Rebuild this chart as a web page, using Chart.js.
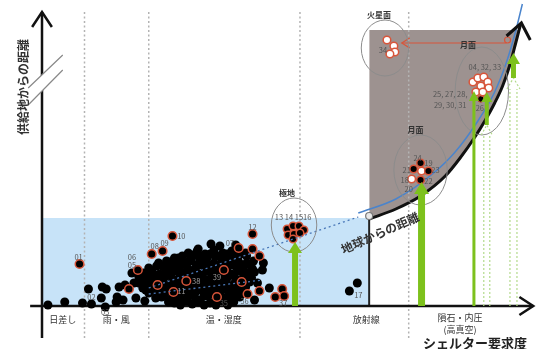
<!DOCTYPE html>
<html><head><meta charset="utf-8">
<script src="https://cdn.jsdelivr.net/npm/chart.js@4.4.1/dist/chart.umd.min.js"></script>
<style>html,body{margin:0;padding:0;background:#fff;overflow:hidden}#wrap{width:542px;height:349px;position:relative}</style>
</head><body><div id="wrap"><canvas id="c" width="542" height="349"></canvas></div>
<script>
// ---- texts ----
const yAxisTitle = '供給地からの距離';
const xAxisTitle = 'シェルター要求度';
const curveTitle = '地球からの距離';
const categories = ['日差し', '雨・風', '温・湿度', '放射線', '隕石・内圧', '(高真空)'];
const categoryX = [21, 75, 184, 328, 423, 423];
const categoryY = [-14, -14, -14, -14, -12, -24];
const dividerX = [43, 108, 261, 371];

// ---- regions / curves (requirement 0-500, distance 0-300) ----
const earthZoneTop = 88;      // light-blue zone
const earthZoneRight = 331;
const spaceZoneTop = 276;     // grey zone
const curveX = [331, 358, 383, 408, 423, 438, 448, 458, 466, 473, 479, 484];
const curveY = [87, 97, 110, 130, 148, 169, 185, 203, 220, 240, 262, 281];
const blueX = [320, 358, 395, 418, 441, 458, 470, 479, 486];
const blueY = [93, 107, 132, 154, 185, 214, 244, 274, 302];
const trendUpper = [[108, 18], [320, 89]];
const trendLower = [[108, 12], [223, 26]];

// ---- points ----
const clusterBlack = [
 [6,1],[23,4],[41,3],[50,2],[47,17],[61,19],[65,17],[60,8],[64,-1],[75,4],[76,9],[82,6],[84,21],[78,19],
 [93,23],[95,8],[104,5],[105,16],[98,29],[91,33],[105,28],[110,34],[111,26],[121,9],[128,4],[140,8],[127,44],[138,48],
 [148,53],[157,55],[165,52],[174,56],[183,53],[192,55],[201,52],
 [134,48],[142,50],[150,47],[158,50],[167,48],[175,50],[182,47],[190,49],[198,48],[207,50],
 [118,43],[126,45],[134,42],[143,44],[151,45],[158,42],[166,44],[174,43],[183,45],[191,43],[199,44],[206,42],[214,45],
 [108,38],[116,40],[125,37],[132,39],[140,40],[148,37],[156,39],[165,38],[172,40],[180,37],[188,39],[197,38],[204,40],[212,38],
 [103,33],[111,35],[119,32],[127,34],[135,35],[143,33],[151,34],[159,32],[167,35],[175,33],[183,34],[191,32],[199,35],[207,33],[215,34],
 [100,28],[108,30],[116,28],[124,29],[132,27],[140,30],[148,28],[156,29],[164,27],[172,30],[180,28],[188,29],[196,27],[204,30],[212,28],
 [98,23],[106,25],[114,23],[122,24],[130,22],[138,25],[146,23],[154,24],[162,22],[170,25],[178,23],[186,24],[194,22],[210,24],[218,23],
 [102,18],[110,20],[118,18],[126,19],[134,17],[142,20],[150,18],[158,19],[166,17],[174,20],[182,18],[190,19],[198,17],[206,19],
 [108,13],[116,15],[124,13],[140,14],[148,12],[156,15],[164,13],[172,14],[180,12],[188,15],[196,13],[202,14],
 [115,8],[124,10],[132,8],[148,9],[156,7],[164,10],[186,8],[194,9],
 [134,3],[146,5],[158,4],[170,3],[182,5],[194,4],
 [152,51],[161,47],[170,52],[179,50],[187,52],[196,51],[122,40],[130,44],[138,36],[146,41],[154,36],[162,41],[170,36],
 [178,41],[186,36],[194,41],[202,37],[210,42],[106,26],[114,31],[122,27],[130,31],[138,27],[146,31],[154,27],[162,31],
 [170,27],[178,31],[186,27],[194,31],[202,26],[210,31],[104,20],[112,16],[120,21],[128,16],[136,21],[144,16],[152,21],
 [160,16],[168,21],[176,16],[184,21],[192,16],[200,21],[120,11],[136,11],[144,6],[152,11],[160,6],[168,10],[176,6],
 [190,6],[200,9],[140,1],[152,2],[164,1],[176,1],[188,1],
 [180,60],[196,61],[206,53],[224,43],[213,37],[203,35],[230,18],[215,6],[192,11],[223,36],[171,62],[158,57],
 [311,15],[319,23]
];
const redRinged = [[38,42],[97,36],[111,52],[122,55],[132,70],[199,58],[213,72],[213,57],[220,50],[202,24],[208,12],[220,15],[236,9],[243,17],[245,10],
 [88,17],[117,21],[133,14],[146,25],[184,36],[177,9]];
const polarPts = [[248,77],[254,80],[260,80],[265,76],[249,71],[255,72],[261,73],[254,67]];
const moonLowBlack = [[383,143],[376,137],[391,135],[383,126]];
const moonLowWhite = [[384,135],[374,127]];
const moonHighWhite = [[436,224],[441,228],[447,229],[451,224],[452,218],[444,220],[439,214],[446,214]];
const moonHighBlack = [[444,207]];
const marsWhite = [[349,266],[356,260],[357,254],[352,252]];

// ---- requirement arrows ----
const arrowX = [256, 384, 437, 450, 477];
const arrowTip = [64, 124, 215, 214, 253];
const arrowBase = [0, 0, 0, 181, 228];
const ghostTop = [null, null, null, 181, 228];

// ---- zones (ellipses) ----
const zoneCX = [255, 383, 445, 347];
const zoneCY = [81, 136, 215, 258];
const zoneRX = [23, 27, 27, 24];
const zoneRY = [27, 35, 44, 28];

// ---- labels ----
const pointLabels = [['01',37,49],['02',50,9],['03',64,-6],['05',91,41],['06',91,49],['08',114,60],['09',124,63],['10',141,70],
 ['07',190,63],['12',213,79],['35',184,3],['36',205,5],['37',244,3],['17',320,11],['13 14 1516',254,89],
 ['34',345,256],['04, 32, 33',448,239],['25, 27, 28,',413,212],['29, 30, 31',413,201],['26',443,198],
 ['24',380,148],['19',391,143],['21',369,136],['23',398,136],['18',367,126],['22',391,125],['20',371,117]];
const innerLabels = [['38',156,25],['39',177,29],['11',141,15]];
const zoneLabels = [['極地',248,113],['月面',378,176],['月面',431,261],['火星面',341,291]];

const pts = a => a.map(p => ({x: p[0], y: p[1]}));
const FONT = '"Noto Sans CJK JP", "Noto Sans", sans-serif';
const RED = '#d8553a', GREEN = '#7dc11c', GHOST = '#b3da8c';

const line = (data, color, width, extra) => Object.assign({data, showLine: true, borderColor: color, borderWidth: width,
  pointRadius: 0, fill: false, clip: false, tension: 0}, extra || {});
const scatter = (data, bg, border, bw, r, order) => ({data: pts(data), showLine: false, pointRadius: r, pointBackgroundColor: bg,
  pointBorderColor: border, pointBorderWidth: bw, clip: false, order});

const datasets = [
  line([{x: 0, y: earthZoneTop}, {x: earthZoneRight, y: earthZoneTop}], 'rgba(0,0,0,0)', 0, {fill: 'origin', backgroundColor: '#c7e3f8', order: 100}),
  line(curveX.map((x, i) => ({x, y: curveY[i]})), '#111', 3, {cubicInterpolationMode: 'monotone', order: 30}),
  line(curveX.map(x => ({x, y: spaceZoneTop})), 'rgba(0,0,0,0)', 0, {fill: {target: 1, above: '#9d9290', below: 'rgba(0,0,0,0)'}, order: 90}),
];
dividerX.forEach(x => datasets.push(line([{x, y: -32}, {x, y: 296}], '#b3b3b3', 1.5, {borderDash: [2, 2.5], order: 80})));
datasets.push(line(pts(trendUpper), '#4a78b8', 1.3, {borderDash: [2, 3], order: 5}));
datasets.push(line(pts(trendLower), '#4a78b8', 1.3, {borderDash: [2, 3], order: 5}));
datasets.push(line(blueX.map((x, i) => ({x, y: blueY[i]})), '#4a84cc', 1.5, {cubicInterpolationMode: 'monotone', order: 35}));
datasets.push(line([{x: earthZoneRight, y: 0}, {x: earthZoneRight, y: earthZoneTop}], '#222', 2, {order: 50}));
datasets.push(line([{x: 0, y: -32}, {x: 0, y: 294}], '#111', 2.5, {order: 45}));
datasets.push(line([{x: -10, y: 279}, {x: 0, y: 294}, {x: 10, y: 279}], '#111', 2.5, {order: 45}));
datasets.push(line([{x: -12, y: 0}, {x: 497, y: 0}], '#111', 2.5, {order: 45}));
datasets.push(line([{x: 483, y: 9}, {x: 497, y: 0}, {x: 483, y: -9}], '#111', 2.5, {order: 45}));
datasets.push(line([{x: 470, y: 270}, {x: 485, y: 283}, {x: 494, y: 266}], '#111', 3, {order: 30}));
datasets.push(line([{x: 470, y: 263}, {x: 364, y: 263}], RED, 1.2, {order: 40}));
datasets.push(line([{x: 372, y: 268}, {x: 364, y: 263}, {x: 372, y: 258}], RED, 1.2, {order: 40}));
datasets.push(scatter([[471, 266]], 'rgba(0,0,0,0)', RED, 1.2, 3, 40));
datasets.push(scatter([[331, 90]], '#e8e8e8', '#777', 1.2, 3.5, 29));
datasets.push(scatter(clusterBlack, '#000', '#000', 0, 4.5, 10));
datasets.push(scatter(redRinged, '#000', RED, 1.5, 4.3, 9));
datasets.push(scatter(polarPts, '#000', RED, 1.5, 3.8, 9));
datasets.push(scatter(moonLowBlack, '#000', RED, 1.5, 3.8, 9));
datasets.push(scatter(moonLowWhite, '#fff', RED, 1.5, 3.8, 9));
datasets.push(scatter(moonHighWhite, '#fff', RED, 1.5, 3.8, 9));
datasets.push(scatter(moonHighBlack, '#000', RED, 1, 3.2, 9));
datasets.push(scatter(marsWhite, '#fff', RED, 1.5, 3.8, 9));

const decor = {
  id: 'decor',
  afterDatasetsDraw(chart) {
    const ctx = chart.ctx, xs = chart.scales.x, ys = chart.scales.y;
    const X = v => xs.getPixelForValue(v), Y = v => ys.getPixelForValue(v);
    ctx.save();
    ctx.strokeStyle = '#8c8c8c'; ctx.lineWidth = 1;
    zoneCX.forEach((cx, i) => {
      ctx.beginPath();
      ctx.ellipse(X(cx), Y(zoneCY[i]), X(cx + zoneRX[i]) - X(cx), Y(zoneCY[i]) - Y(zoneCY[i] + zoneRY[i]), 0, 0, Math.PI * 2);
      ctx.stroke();
    });
    const shaftW = [6, 7, 3, 4, 5], headW = [14, 15, 10, 11, 13], headH = [11, 12, 10, 10, 11];
    arrowX.forEach((ax, i) => {
      const x = X(ax), tip = Y(arrowTip[i]), base = Y(arrowBase[i]);
      if (ghostTop[i] !== null) {
        const gt = Y(ghostTop[i]), w = shaftW[i] + 2;
        ctx.save(); ctx.strokeStyle = GHOST; ctx.lineWidth = 1.2; ctx.setLineDash([2, 2]);
        ctx.beginPath();
        ctx.moveTo(x - w / 2, Y(0)); ctx.lineTo(x - w / 2, gt + headH[i]);
        ctx.moveTo(x + w / 2, Y(0)); ctx.lineTo(x + w / 2, gt + headH[i]);
        ctx.moveTo(x - headW[i] / 2, gt + headH[i]); ctx.lineTo(x, gt); ctx.lineTo(x + headW[i] / 2, gt + headH[i]);
        ctx.stroke(); ctx.restore();
      }
      ctx.fillStyle = GREEN;
      ctx.fillRect(x - shaftW[i] / 2, tip + headH[i] - 1, shaftW[i], base - tip - headH[i] + 1);
      ctx.beginPath(); ctx.moveTo(x - headW[i] / 2, tip + headH[i]); ctx.lineTo(x, tip); ctx.lineTo(x + headW[i] / 2, tip + headH[i]);
      ctx.closePath(); ctx.fill();
    });
    ctx.fillStyle = '#fff';
    ctx.beginPath(); ctx.moveTo(X(-14), Y(218)); ctx.lineTo(X(21), Y(251)); ctx.lineTo(X(21), Y(236)); ctx.lineTo(X(-14), Y(201)); ctx.closePath(); ctx.fill();
    ctx.strokeStyle = '#888'; ctx.lineWidth = 1.2;
    ctx.beginPath(); ctx.moveTo(X(-14), Y(218)); ctx.lineTo(X(21), Y(251)); ctx.moveTo(X(-14), Y(201)); ctx.lineTo(X(21), Y(236)); ctx.stroke();
    ctx.restore();
  },
  afterDraw(chart) {
    const ctx = chart.ctx, xs = chart.scales.x, ys = chart.scales.y;
    const X = v => xs.getPixelForValue(v), Y = v => ys.getPixelForValue(v);
    ctx.save();
    ctx.textAlign = 'center'; ctx.textBaseline = 'middle';
    ctx.font = '7.5px ' + FONT; ctx.fillStyle = '#555';
    pointLabels.forEach(l => ctx.fillText(l[0], X(l[1]), Y(l[2])));
    ctx.fillStyle = '#9a9a9a';
    innerLabels.forEach(l => ctx.fillText(l[0], X(l[1]), Y(l[2])));
    ctx.font = 'bold 8px ' + FONT; ctx.fillStyle = '#333';
    zoneLabels.forEach(l => ctx.fillText(l[0], X(l[1]), Y(l[2])));
    ctx.font = '9px ' + FONT; ctx.fillStyle = '#333';
    categories.forEach((c, i) => ctx.fillText(c, X(categoryX[i]), Y(categoryY[i])));
    ctx.font = 'bold 13px ' + FONT; ctx.fillStyle = '#222';
    ctx.fillText(xAxisTitle, X(438), Y(-37));
    ctx.save(); ctx.translate(X(-19), Y(219)); ctx.rotate(-Math.PI / 2);
    ctx.font = 'bold 12px ' + FONT; ctx.fillStyle = '#333'; ctx.fillText(yAxisTitle, 0, 0); ctx.restore();
    ctx.save(); ctx.translate(X(342), Y(73)); ctx.rotate(-24 * Math.PI / 180);
    ctx.font = 'bold 12px ' + FONT; ctx.fillStyle = '#333'; ctx.fillText(curveTitle, 0, 0); ctx.restore();
    ctx.restore();
  }
};

new Chart(document.getElementById('c'), {
  type: 'line',
  data: {datasets},
  options: {
    responsive: false, devicePixelRatio: 1, animation: false, events: [],
    layout: {padding: {left: 42, right: 0, top: 6, bottom: 43}},
    scales: {
      x: {type: 'linear', min: 0, max: 500, display: false},
      y: {type: 'linear', min: 0, max: 300, display: false}
    },
    plugins: {legend: {display: false}, tooltip: {enabled: false}}
  },
  plugins: [decor]
});
</script></body></html>
